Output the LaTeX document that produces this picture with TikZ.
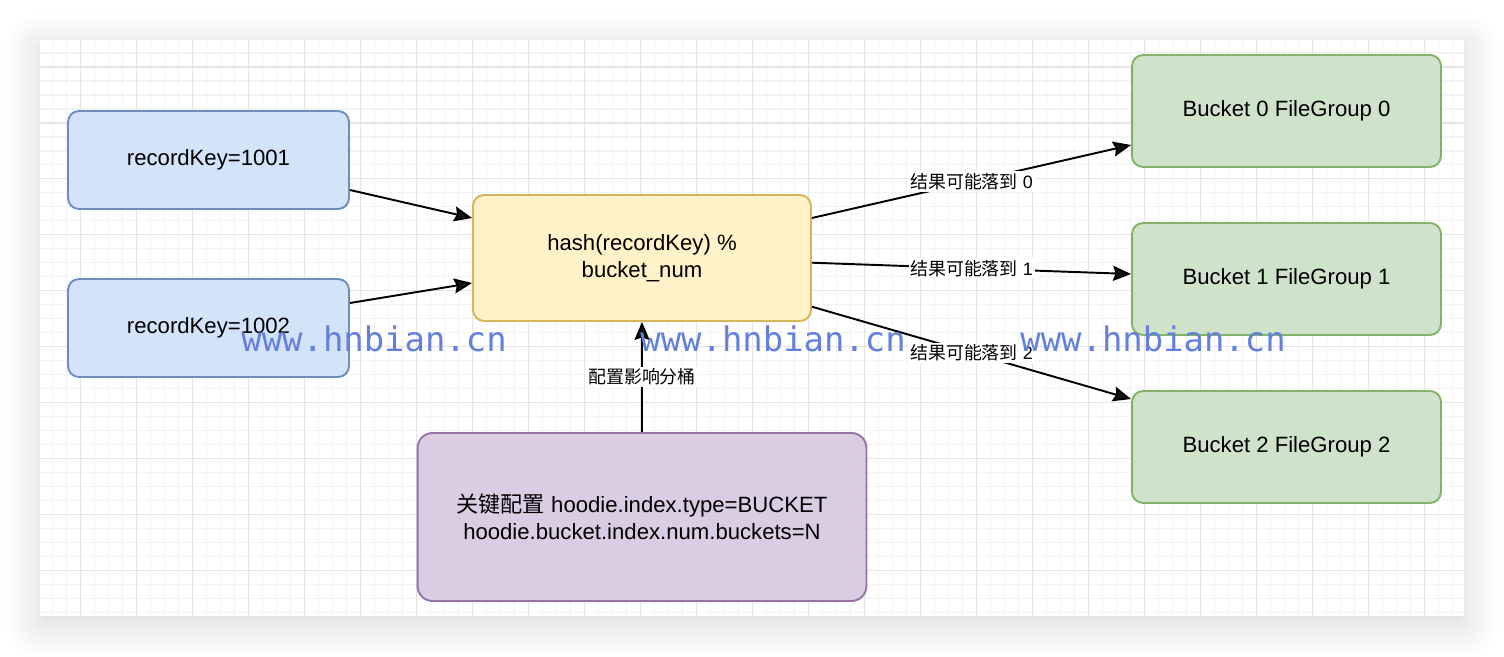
\documentclass[tikz,border=0pt]{standalone}
\usepackage{fontspec}
\setmainfont{Liberation Sans}
\newfontfamily\cjk{Noto Sans CJK SC}
\newfontfamily\wmfont{DejaVu Sans Mono}
\usetikzlibrary{arrows.meta,calc,shadows.blur}

\definecolor{keyfill}{HTML}{D3E4FA}
\definecolor{keydraw}{HTML}{6C8EBF}
\definecolor{hashfill}{HTML}{FFF1C8}
\definecolor{hashdraw}{HTML}{D6B656}
\definecolor{bktfill}{HTML}{CFE3CB}
\definecolor{bktdraw}{HTML}{82B366}
\definecolor{cfgfill}{HTML}{DACCE3}
\definecolor{cfgdraw}{HTML}{9673A6}
\definecolor{wmblue}{HTML}{6580DC}

\tikzset{
    box/.style={draw, rounded corners=0.22cm, line width=1.1pt, inner sep=0pt, align=center,
        font=\fontsize{12.6pt}{15.1pt}\selectfont},
    keybox/.style={box, fill=keyfill, draw=keydraw, minimum width=5.62cm, minimum height=1.96cm},
    hashbox/.style={box, fill=hashfill, draw=hashdraw, minimum width=6.76cm, minimum height=2.52cm},
    bktbox/.style={box, fill=bktfill, draw=bktdraw, minimum width=6.18cm, minimum height=2.24cm},
    cfgbox/.style={box, fill=cfgfill, draw=cfgdraw, rounded corners=0.3cm, minimum width=8.98cm, minimum height=3.36cm},
    link/.style={line width=1.1pt, -{Stealth[length=0.36cm, width=0.3cm, inset=0.05cm]}},
    lbl/.style={fill=white, inner sep=1pt, font=\fontsize{10.2pt}{12pt}\selectfont},
    wmark/.style={text=wmblue, anchor=base west, inner sep=0pt, font=\wmfont\fontsize{19.3pt}{22pt}\selectfont},
    gridminor/.style={draw={rgb,255:red,243;green,243;blue,243}, line width=0.6pt},
    gridmajor/.style={draw={rgb,255:red,228;green,228;blue,228}, line width=0.6pt}
}

\begin{document}
\begin{tikzpicture}[x=0.02cm, y=-0.02cm]
    \useasboundingbox (0,0) rectangle (1504,656);

    \fill[white, blur shadow={shadow xshift=0pt, shadow yshift=-0.15cm, shadow blur radius=0.7cm, shadow blur steps=12, shadow opacity=16}]
        (40,40) rectangle (1464,616);
    \begin{scope}
        \clip (40,40) rectangle (1464,616);
        \begin{scope}[shift={(24.7,11)}]
            \draw[gridminor, step=0.28cm] (0,0) grid (1450,610);
            \draw[gridmajor, step=1.12cm] (0,0) grid (1450,610);
        \end{scope}
    \end{scope}

    \node[keybox] (r1) at (208.5,160) {recordKey=1001};
    \node[keybox] (r2) at (208.5,328) {recordKey=1002};
    \node[hashbox] (hash) at (642,258) {hash(recordKey) \%\\bucket\_num};
    \node[bktbox] (b0) at (1286.5,111) {Bucket 0 FileGroup 0};
    \node[bktbox] (b1) at (1286.5,279) {Bucket 1 FileGroup 1};
    \node[bktbox] (b2) at (1286.5,447) {Bucket 2 FileGroup 2};
    \node[cfgbox] (cfg) at (642,517) {{\cjk 关键配置} hoodie.index.type=BUCKET\\hoodie.bucket.index.num.buckets=N};

    \draw[link] ($(r1.east)+(0,30)$) -- ($(hash.west)+(0,-40)$);
    \draw[link] ($(r2.east)+(0,-25)$) -- ($(hash.west)+(0,25)$);
    \draw[link] ($(hash.east)+(0,-40)$) -- node[lbl] {{\cjk 结果可能落到} 0} ($(b0.west)+(0,34)$);
    \draw[link] ($(hash.east)+(0,4.7)$) -- node[lbl] {{\cjk 结果可能落到} 1} ($(b1.west)+(0,-5)$);
    \draw[link] ($(hash.east)+(0,48.7)$) -- node[lbl] {{\cjk 结果可能落到} 2} ($(b2.west)+(0,-48)$);
    \draw[link] (cfg.north) -- node[lbl] {\cjk 配置影响分桶} (hash.south);

    \node[wmark] (wm1) at (241,351) {www.hnbian.cn};
    \node[wmark] (wm2) at (640,351) {www.hnbian.cn};
    \node[wmark] (wm3) at (1020,351) {www.hnbian.cn};
\end{tikzpicture}
\end{document}
